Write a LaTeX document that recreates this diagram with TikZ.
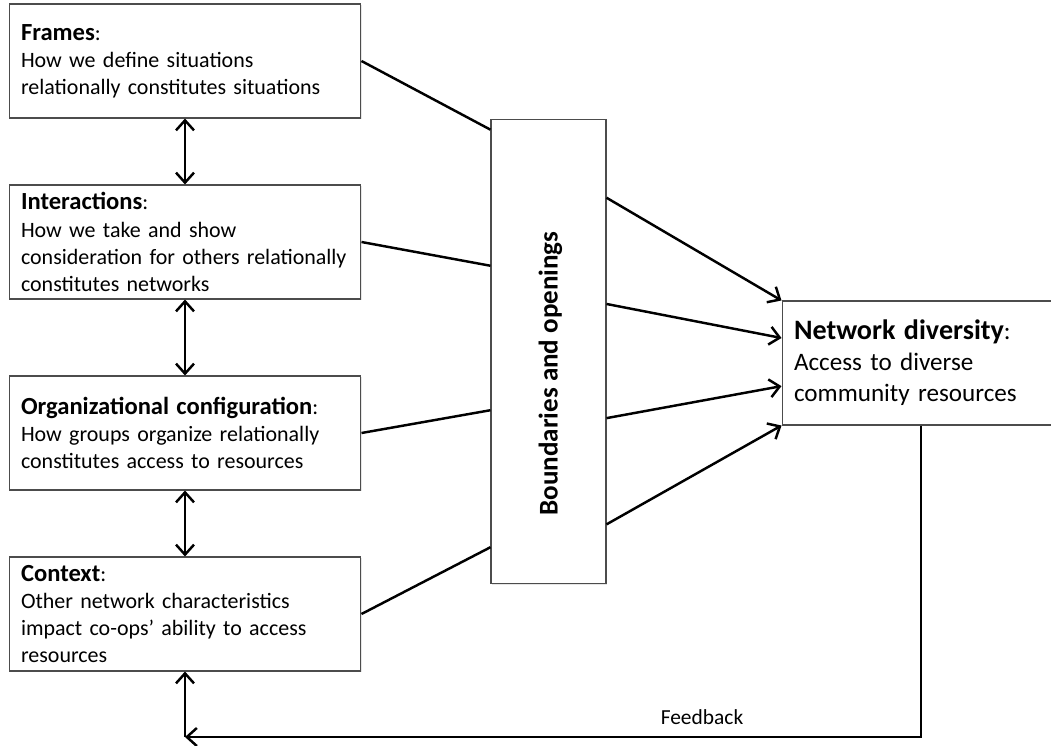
\documentclass[tikz,border=0pt]{standalone}
\usepackage{fontspec}
\setmainfont{Carlito}
\usetikzlibrary{positioning,calc,arrows.meta,shadows}

\tikzset{
  factor/.style={draw=black!70,line width=0.6pt,fill=white,
    drop shadow={opacity=0.2,shadow xshift=0.7pt,shadow yshift=-0.7pt},
    align=left,inner xsep=0.24cm,inner ysep=0pt,
    text width=6.56cm,minimum height=2.28cm,
    font=\fontsize{12.5}{15.4}\selectfont},
  outcome/.style={factor,text width=5.08cm,minimum height=2.48cm,
    font=\fontsize{14.3}{17.6}\selectfont},
  link/.style={line width=1.4pt},
  flow/.style={link,->},
}
\newcommand{\ftitle}[1]{{\fontsize{14}{15.4}\selectfont\bfseries #1}:}

\begin{document}
\begin{tikzpicture}[x=0.02cm,y=-0.02cm,>={Straight Barb[length=2mm,width=3.6mm]}]
  \useasboundingbox (0,0) rectangle (1051,746);

  % left column
  \node[factor] (frames) at (185,61) {\ftitle{Frames}\\How we define situations\\relationally constitutes situations};
  \node[factor] (inter) at (185,242) {\ftitle{Interactions}\\How we take and show\\consideration for others relationally\\constitutes networks};
  \node[factor] (orgconf) at (185,433) {\ftitle{Organizational configuration}\\How groups organize relationally\\constitutes access to resources};
  \node[factor] (context) at (185,614) {\ftitle{Context}\\Other network characteristics\\impact co-ops' ability to access\\resources};

  % filter and outcome
  \node[draw=black!70,line width=0.6pt,fill=white,minimum width=2.3cm,minimum height=9.3cm,
    drop shadow={opacity=0.2,shadow xshift=0.7pt,shadow yshift=-0.7pt}] (bounds) at (548.5,351.5) {};
  \node[rotate=90,font=\fontsize{15.4}{18}\selectfont\bfseries] (boundslabel) at ($(bounds.center)+(2,22)$) {Boundaries and openings};
  \node[outcome] (netdiv) at (921,363) {{\fontsize{16}{17.6}\selectfont\bfseries Network diversity}:\\Access to diverse\\community resources};

  \draw[link,<->] (frames.south) -- (inter.north);
  \draw[link,<->] (inter.south) -- (orgconf.north);
  \draw[link,<->] (orgconf.south) -- (context.north);

  \draw[link] (frames.east) -- ($(bounds.north west)!.024!(bounds.south west)$);
  \draw[link] (inter.east) -- ($(bounds.north west)!.316!(bounds.south west)$);
  \draw[link] (orgconf.east) -- ($(bounds.north west)!.626!(bounds.south west)$);
  \draw[link] (context.east) -- ($(bounds.north west)!.92!(bounds.south west)$);

  \draw[flow] ($(bounds.north east)!.17!(bounds.south east)$) -- (netdiv.north west);
  \draw[flow] ($(bounds.north east)!.398!(bounds.south east)$) -- ($(netdiv.north west)!.3!(netdiv.south west)$);
  \draw[flow] ($(bounds.north east)!.643!(bounds.south east)$) -- ($(netdiv.north west)!.685!(netdiv.south west)$);
  \draw[flow] ($(bounds.north east)!.871!(bounds.south east)$) -- (netdiv.south west);

  % feedback loop
  \coordinate (fbcorner) at (185,737);
  \draw[flow] (netdiv.south) |- (fbcorner);
  \draw[flow] (fbcorner) -- (context.south);
  \node[font=\fontsize{12.2}{14}\selectfont] (fblabel) at (702,717) {Feedback};
\end{tikzpicture}
\end{document}
